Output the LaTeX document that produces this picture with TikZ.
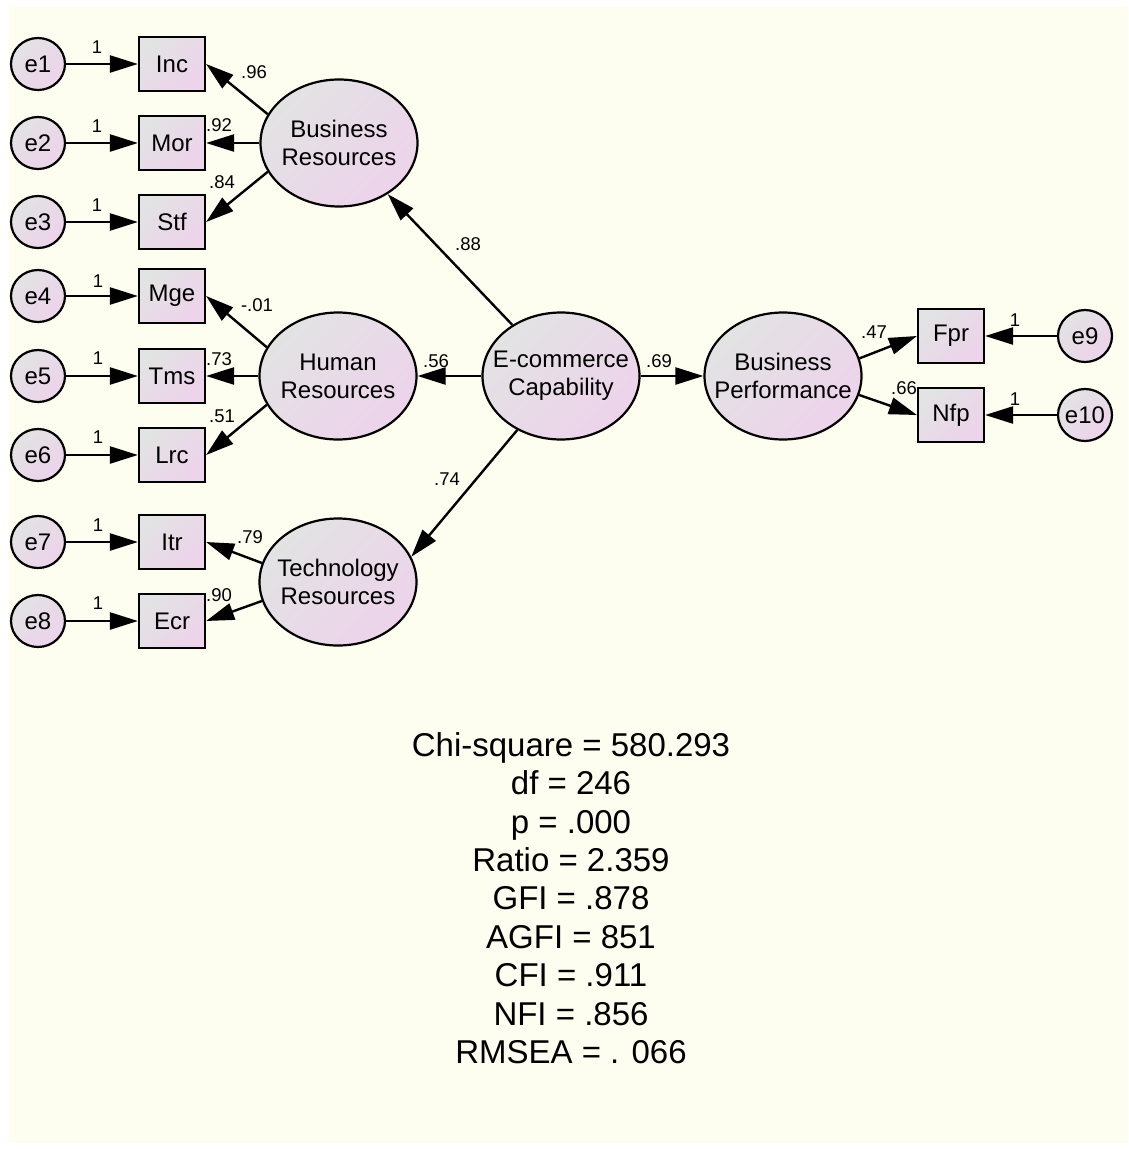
\documentclass[tikz,border=0pt]{standalone}
\usepackage{fontspec}
\setmainfont{Liberation Sans}
\usetikzlibrary{shapes.geometric,arrows.meta}

\definecolor{paper}{HTML}{FDFEEF}
\definecolor{shadeA}{HTML}{E2E3E3}
\definecolor{shadeB}{HTML}{EDD3EB}

\tikzset{
  shaded/.style={top color=shadeA, bottom color=shadeB, shading angle=45},
  latent/.style={ellipse, draw, line width=2.2pt, shaded, minimum width=157pt,
    minimum height=127pt, inner sep=0pt,
    label={[align=center, font=\fontsize{24}{28}\selectfont]center:#1}},
  observed/.style={rectangle, draw, line width=2.2pt, shaded, minimum width=66pt,
    minimum height=54pt, inner sep=0pt, font=\fontsize{24}{28}\selectfont},
  error/.style={ellipse, draw, line width=2.2pt, shaded, minimum width=54pt,
    minimum height=52pt, inner sep=0pt,
    label={[font=\fontsize{24}{28}\selectfont]center:#1}},
  load/.style={line width=2.4pt, -{Triangle[length=28pt,width=17pt]}},
  est/.style={font=\fontsize{18.5}{21}\selectfont, inner sep=0pt},
}

\begin{document}
\begin{tikzpicture}[x=1pt,y=-1pt]
  \useasboundingbox (0,0) rectangle (1128,1149);
  \fill[paper] (9,7) rectangle (1128,1143);

  % latent variables
  \node[latent={Business\\Resources}] (br) at (339,143) {};
  \node[latent={Human\\Resources}] (hr) at (338,376) {};
  \node[latent={Technology\\Resources}] (tr) at (338,582) {};
  \node[latent={E-commerce\\Capability}] (ecc) at (561,376) {};
  \node[latent={Business\\Performance}] (bp) at (783,376) {};

  % indicators
  \node[observed] (inc) at (172,64) {Inc};
  \node[observed] (mor) at (172,143) {Mor};
  \node[observed] (stf) at (172,222) {Stf};
  \node[observed] (mge) at (172,296) {Mge};
  \node[observed] (tms) at (172,376) {Tms};
  \node[observed] (lrc) at (172,455) {Lrc};
  \node[observed] (itr) at (172,542) {Itr};
  \node[observed] (ecr) at (172,621) {Ecr};
  \node[observed] (fpr) at (951,336) {Fpr};
  \node[observed] (nfp) at (951,415) {Nfp};

  % error terms
  \node[error=e1] (e1) at (38,64) {};
  \node[error=e2] (e2) at (38,143) {};
  \node[error=e3] (e3) at (38,222) {};
  \node[error=e4] (e4) at (38,296) {};
  \node[error=e5] (e5) at (38,376) {};
  \node[error=e6] (e6) at (38,455) {};
  \node[error=e7] (e7) at (38,542) {};
  \node[error=e8] (e8) at (38,621) {};
  \node[error=e9] (e9) at (1085,336) {};
  \node[error=e10] (e10) at (1085,415) {};

  % structural paths
  \draw[load] (ecc) -- (br);
  \draw[load] (ecc) -- (hr);
  \draw[load] (ecc.231) -- (tr.19);
  \draw[load] (ecc) -- (bp);

  % loadings
  \draw[load] (br.158) -- (inc.east);
  \draw[load] (br) -- (mor);
  \draw[load] (br.202) -- (stf.east);
  \draw[load] (hr.158) -- (mge.east);
  \draw[load] (hr) -- (tms);
  \draw[load] (hr.202) -- (lrc.east);
  \draw[load] (tr.166) -- (itr.east);
  \draw[load] (tr.194) -- (ecr.east);
  \draw[load] (bp.13) -- (fpr.west);
  \draw[load] (bp.-14) -- (nfp.west);

  % errors to indicators
  \draw[load] (e1) -- (inc);
  \draw[load] (e2) -- (mor);
  \draw[load] (e3) -- (stf);
  \draw[load] (e4) -- (mge);
  \draw[load] (e5) -- (tms);
  \draw[load] (e6) -- (lrc);
  \draw[load] (e7) -- (itr);
  \draw[load] (e8) -- (ecr);
  \draw[load] (e9) -- (fpr);
  \draw[load] (e10) -- (nfp);

  % estimates
  \node[est] (w-inc) at (254,72) {.96};
  \node[est] (w-mor) at (219,125) {.92};
  \node[est] (w-stf) at (222,182) {.84};
  \node[est] (w-mge) at (257,305) {-.01};
  \node[est] (w-tms) at (219,359) {.73};
  \node[est] (w-lrc) at (222,416) {.51};
  \node[est] (w-itr) at (250,537) {.79};
  \node[est] (w-ecr) at (219,595) {.90};
  \node[est] (w-br) at (468,244) {.88};
  \node[est] (w-hr) at (436,361) {.56};
  \node[est] (w-tr) at (447,479) {.74};
  \node[est] (w-bp) at (659,361) {.69};
  \node[est] (w-fpr) at (874,332) {.47};
  \node[est] (w-nfp) at (904,388) {.66};

  \node[est] (f1) at (97,47) {1};
  \node[est] (f2) at (97,126) {1};
  \node[est] (f3) at (97,205) {1};
  \node[est] (f4) at (98,281) {1};
  \node[est] (f5) at (98,358) {1};
  \node[est] (f6) at (98,437) {1};
  \node[est] (f7) at (98,525) {1};
  \node[est] (f8) at (98,603) {1};
  \node[est] (f9) at (1015,320) {1};
  \node[est] (f10) at (1015,399) {1};

  % fit indices
  \node[align=center, font=\fontsize{33}{38.4}\selectfont] (fit) at (571,898)
    {Chi-square = 580.293\\df = 246\\p = .000\\Ratio = 2.359\\GFI = .878\\
     AGFI = 851\\CFI = .911\\NFI = .856\\RMSEA = . 066};
\end{tikzpicture}
\end{document}
